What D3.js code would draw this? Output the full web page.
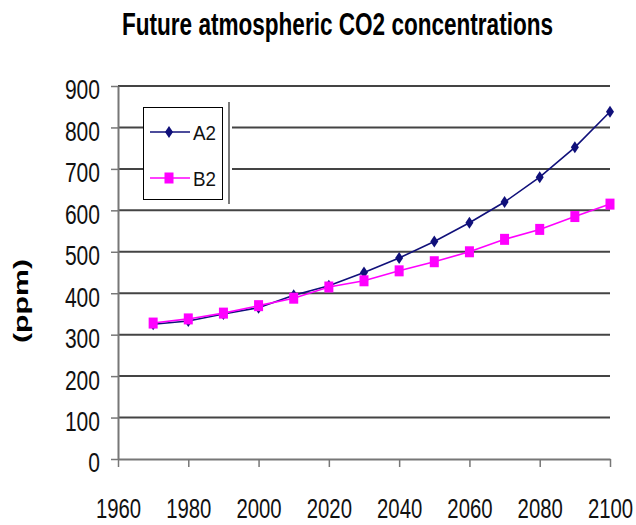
<!DOCTYPE html>
<html>
<head>
<meta charset="utf-8">
<script src="https://cdn.jsdelivr.net/npm/d3@7/dist/d3.min.js"></script>
<style>
  html, body { margin: 0; padding: 0; background: #fff; }
  svg { display: block; }
</style>
</head>
<body>
<svg id="chart" width="636" height="525"></svg>
<script>
// Projected CO2 concentration (ppm) for two emission scenarios
const years = [1970, 1980, 1990, 2000, 2010, 2020, 2030, 2040, 2050, 2060, 2070, 2080, 2090, 2100];
const a2 = [325, 333, 350, 365, 395, 418, 450, 485, 525, 570, 620, 680, 752, 838];
const b2 = [328, 338, 352, 370, 388, 415, 430, 454, 476, 500, 530, 554, 585, 615];
const seriesNames = ["A2", "B2"];
const xTicks = [1960, 1980, 2000, 2020, 2040, 2060, 2080, 2100];
const yTicks = [0, 100, 200, 300, 400, 500, 600, 700, 800, 900];
const titleText = "Future atmospheric CO2 concentrations";
const yLabel = "(ppm)";

const FONT = "Liberation Sans, Arial, sans-serif";
const svg = d3.select("#chart");
const x = d3.scaleLinear().domain([1960, 2100]).range([118, 610]);
const y = d3.scaleLinear().domain([0, 900]).range([459, 86]);

const colors = { A2: "#10107a", B2: "#ff00ff" };

// Condensed look: squeeze glyphs to a fixed advance per character
function condense(sel, perChar) {
  sel.each(function () {
    const t = d3.select(this);
    t.attr("textLength", t.text().length * perChar).attr("lengthAdjust", "spacingAndGlyphs");
  });
}

// Title
svg.append("text")
  .attr("x", 122).attr("y", 35)
  .attr("textLength", 431).attr("lengthAdjust", "spacingAndGlyphs")
  .attr("font-family", FONT)
  .attr("font-weight", "bold").attr("font-size", 32)
  .attr("fill", "#000")
  .text(titleText);

// Horizontal gridlines
svg.append("g").selectAll("line")
  .data(yTicks.filter(d => d > 0))
  .join("line")
  .attr("x1", x(1960)).attr("x2", x(2100))
  .attr("y1", d => y(d)).attr("y2", d => y(d))
  .attr("stroke", "#444").attr("stroke-width", 2);

// Axes
const yAxis = svg.append("g")
  .attr("transform", `translate(${x(1960)},0)`)
  .call(d3.axisLeft(y).tickValues(yTicks).tickSize(7).tickPadding(11).tickSizeOuter(0));
const xAxis = svg.append("g")
  .attr("transform", `translate(0,${y(0)})`)
  .call(d3.axisBottom(x).tickValues(xTicks).tickFormat(d3.format("d")).tickSize(8).tickPadding(31).tickSizeOuter(0));

[yAxis, xAxis].forEach(g => {
  g.select(".domain").attr("stroke", "#777").attr("stroke-width", 2);
  g.selectAll(".tick line").attr("stroke", "#777").attr("stroke-width", 1.5);
  g.selectAll(".tick text")
    .attr("font-family", FONT)
    .attr("font-size", 28).attr("fill", "#111");
});
yAxis.selectAll(".tick text").attr("dy", "0.46em").call(condense, 11.7);
xAxis.selectAll(".tick text").call(condense, 11.3);

// Y axis title
svg.append("text")
  .attr("transform", "translate(28,301) rotate(-90)")
  .attr("text-anchor", "middle")
  .attr("textLength", 84).attr("lengthAdjust", "spacingAndGlyphs")
  .attr("font-family", FONT)
  .attr("font-weight", "bold").attr("font-size", 20)
  .text(yLabel);

// Series
const series = [
  { name: seriesNames[0], values: a2 },
  { name: seriesNames[1], values: b2 }
];
const line = d3.line().x((d, i) => x(years[i])).y(d => y(d));
const diamond = "M0,-6L4,0L0,6L-4,0Z";

series.forEach(s => {
  const g = svg.append("g");
  g.append("path")
    .datum(s.values)
    .attr("d", line)
    .attr("fill", "none")
    .attr("stroke", colors[s.name]).attr("stroke-width", 1.6);
  if (s.name === "A2") {
    g.selectAll("path.m").data(s.values).join("path")
      .attr("class", "m")
      .attr("d", diamond)
      .attr("transform", (d, i) => `translate(${x(years[i])},${y(d)})`)
      .attr("fill", colors.A2);
  } else {
    g.selectAll("rect").data(s.values).join("rect")
      .attr("x", (d, i) => x(years[i]) - 4.5)
      .attr("y", d => y(d) - 5.5)
      .attr("width", 9).attr("height", 11)
      .attr("fill", colors.B2);
  }
});

// Legend
const lg = svg.append("g");
lg.append("rect").attr("x", 143).attr("y", 102).attr("width", 89).attr("height", 103).attr("fill", "#fff");
lg.append("rect").attr("x", 143.5).attr("y", 107.5).attr("width", 79).attr("height", 92)
  .attr("fill", "#fff").attr("stroke", "#000").attr("stroke-width", 1);
lg.append("line").attr("x1", 229).attr("x2", 229).attr("y1", 102).attr("y2", 204)
  .attr("stroke", "#222").attr("stroke-width", 1.2);

const legendRows = [
  { name: seriesNames[0], cy: 132 },
  { name: seriesNames[1], cy: 178 }
];
legendRows.forEach(r => {
  lg.append("line").attr("x1", 150).attr("x2", 190).attr("y1", r.cy).attr("y2", r.cy)
    .attr("stroke", colors[r.name]).attr("stroke-width", 1.6);
  if (r.name === "A2") {
    lg.append("path").attr("d", diamond).attr("transform", `translate(169,${r.cy})`).attr("fill", colors.A2);
  } else {
    lg.append("rect").attr("x", 164.5).attr("y", r.cy - 5.5).attr("width", 9).attr("height", 11).attr("fill", colors.B2);
  }
  lg.append("text")
    .attr("x", 193).attr("y", r.cy + 8)
    .attr("font-family", FONT)
    .attr("font-size", 21).attr("fill", "#111")
    .attr("textLength", 23).attr("lengthAdjust", "spacingAndGlyphs")
    .text(r.name);
});
</script>
</body>
</html>
